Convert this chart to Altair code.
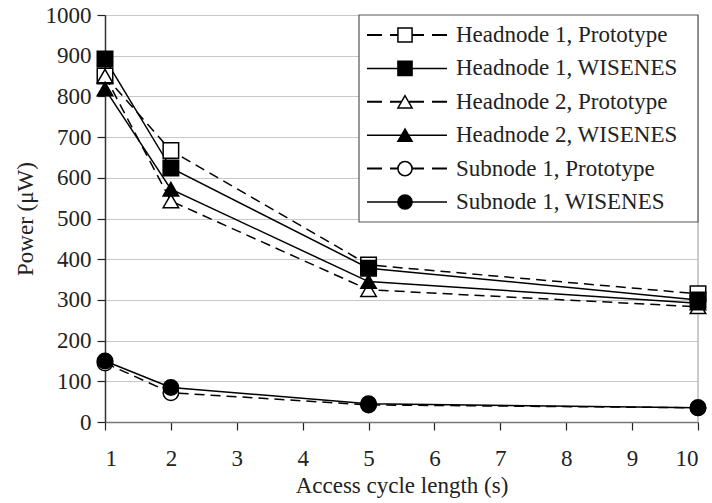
import altair as alt
import pandas as pd

# ---- data ----
series_names = ["Headnode 1, Prototype", "Headnode 1, WISENES",
                "Headnode 2, Prototype", "Headnode 2, WISENES",
                "Subnode 1, Prototype", "Subnode 1, WISENES"]
x_vals = [1, 2, 5, 10]
hn1_proto = [850, 667, 386, 315]
hn1_wis = [892, 624, 378, 300]
hn2_proto = [850, 543, 325, 283]
hn2_wis = [818, 572, 345, 292]
sn1_proto = [145, 72, 42, 35]
sn1_wis = [150, 85, 45, 35]
series_values = [hn1_proto, hn1_wis, hn2_proto, hn2_wis, sn1_proto, sn1_wis]
series_shapes = ["square", "square", "triangle-up", "triangle-up", "circle", "circle"]
series_kind = ["Prototype", "WISENES", "Prototype", "WISENES", "Prototype", "WISENES"]
x_ticks = list(range(1, 11))
y_ticks = list(range(0, 1001, 100))

rows = []
for name, vals, kind in zip(series_names, series_values, series_kind):
    for xv, yv in zip(x_vals, vals):
        rows.append({"series": name, "x": xv, "y": yv, "kind": kind})
df = pd.DataFrame(rows)

leg = pd.DataFrame({"series": series_names, "row": list(range(len(series_names))),
                    "kind": series_kind})

FONT = "Liberation Serif"
W, H = 593, 407

shape_scale = alt.Scale(domain=series_names, range=series_shapes)
fill_scale = alt.Scale(domain=["Prototype", "WISENES"], range=["white", "black"])
xscale = alt.Scale(domain=[1, 10], nice=False, zero=False)
yscale = alt.Scale(domain=[0, 1000], nice=False)

xenc = alt.X("x:Q", scale=xscale,
             axis=alt.Axis(values=x_ticks, format="d", title="Access cycle length (s)", grid=False,
                           tickColor="#222", tickSize=8, tickWidth=1.2,
                           domainColor="#777", domainWidth=1.5,
                           labelPadding=17, titlePadding=4))
yenc = alt.Y("y:Q", scale=yscale,
             axis=alt.Axis(values=y_ticks, format="d", title="Power (\u03bcW)", grid=True,
                           gridColor="#c4c8cc", gridWidth=1.2,
                           tickColor="#222", tickSize=8, tickWidth=1.2,
                           domainColor="#333", domainWidth=1.5,
                           labelPadding=6, titlePadding=8))

base = alt.Chart(df)
dashed = base.transform_filter(alt.datum.kind == "Prototype").mark_line(
    color="black", strokeWidth=1.5, strokeDash=[10, 6]).encode(
    x=xenc, y=yenc, detail="series:N")
solid = base.transform_filter(alt.datum.kind == "WISENES").mark_line(
    color="black", strokeWidth=1.5).encode(
    x=xenc, y=yenc, detail="series:N")
border = alt.Chart(pd.DataFrame({"x": [10]})).mark_rule(color="#b8bcc0", strokeWidth=1.5).encode(
    x=alt.X("x:Q", scale=xscale), y=alt.value(0), y2=alt.value(H))
points = base.mark_point(filled=True, stroke="black", strokeWidth=1.5, opacity=1, size=240).encode(
    x=xenc, y=yenc,
    shape=alt.Shape("series:N", scale=shape_scale, legend=None),
    fill=alt.Fill("kind:N", scale=fill_scale, legend=None))

main = alt.layer(border, dashed, solid, points)

# ---- hand-drawn legend box ----
LX0, LX1 = 254, W
ly = alt.Y("row:Q", scale=alt.Scale(domain=[0, 5], range=[20, 187]), axis=None)
box = alt.Chart(pd.DataFrame({"b": [0]})).mark_rect(
    fill="white", stroke="#555", strokeWidth=1.2).encode(
    x=alt.value(LX0), x2=alt.value(LX1), y=alt.value(0), y2=alt.value(207))
lb = alt.Chart(leg)
leg_solid = lb.transform_filter(alt.datum.kind == "WISENES").mark_rule(
    color="black", strokeWidth=1.5).encode(
    x=alt.value(262), x2=alt.value(342), y=ly)
leg_dash_l = lb.transform_filter(alt.datum.kind == "Prototype").mark_rule(
    color="black", strokeWidth=2, strokeDash=[15, 8]).encode(
    x=alt.value(262), x2=alt.value(300), y=ly)
leg_dash_r = lb.transform_filter(alt.datum.kind == "Prototype").mark_rule(
    color="black", strokeWidth=2, strokeDash=[15, 8]).encode(
    x=alt.value(342), x2=alt.value(300), y=ly)
leg_pts = lb.mark_point(filled=True, stroke="black", strokeWidth=1.5, opacity=1, size=200).encode(
    x=alt.value(300), y=ly,
    shape=alt.Shape("series:N", scale=shape_scale, legend=None),
    fill=alt.Fill("kind:N", scale=fill_scale, legend=None))
leg_txt = lb.mark_text(align="left", baseline="middle", font=FONT, fontSize=23,
                       color="#222").encode(
    x=alt.value(351), y=ly, text="series:N")

legend = alt.layer(box, leg_solid, leg_dash_l, leg_dash_r, leg_pts, leg_txt)

chart = alt.layer(main, legend).resolve_scale(x="independent", y="independent").properties(
    width=W, height=H,
    background="white",
    autosize=alt.AutoSizeParams(type="none"),
    padding={"left": 105, "top": 15, "right": 14, "bottom": 81},
).configure_view(stroke=None).configure_axis(
    labelFont=FONT, titleFont=FONT, labelFontSize=23, titleFontSize=23,
    labelColor="#222", titleColor="#222", titleFontWeight="normal",
)

chart.save("out.html", embed_options={"renderer": "svg", "actions": False})
